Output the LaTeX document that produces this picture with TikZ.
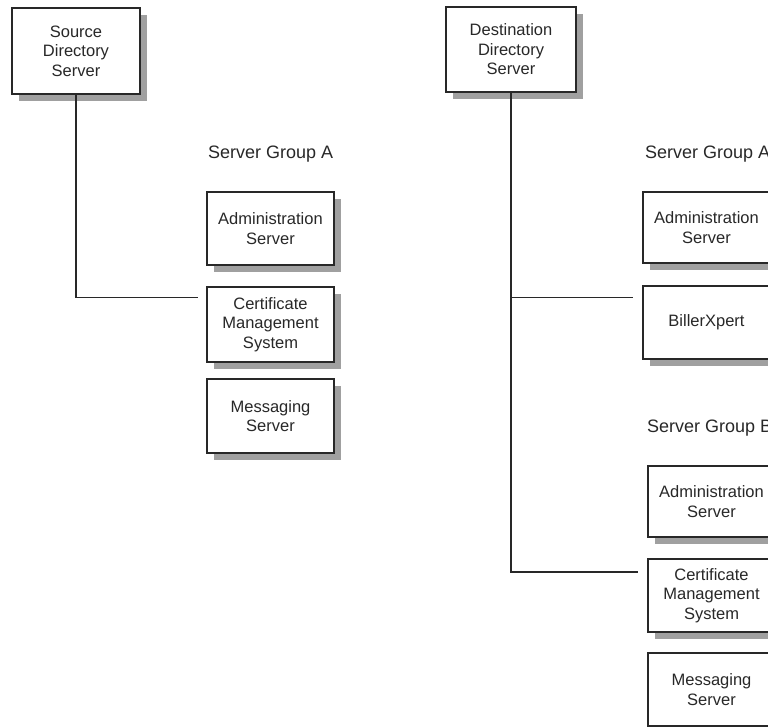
\documentclass[tikz,border=0pt]{standalone}
\usepackage{fontspec}
\setmainfont{Liberation Sans}
\usetikzlibrary{shadows}
\definecolor{shadowgray}{RGB}{160,160,160}
\definecolor{inkgray}{RGB}{40,40,40}
\tikzset{
  srvbox/.style={draw=inkgray, line width=1.4pt, fill=white, inner sep=0pt,
    align=center, minimum width=#1,
    font=\fontsize{16.5}{19.5}\selectfont, text=inkgray,
    drop shadow={shadow xshift=7pt, shadow yshift=-7pt, fill=shadowgray, opacity=1}},
  srvbox/.default=127pt,
  grplabel/.style={anchor=west, inner sep=0pt, font=\fontsize{18}{21}\selectfont, text=inkgray},
  conn/.style={draw=inkgray, line width=1.4pt}
}
\begin{document}
\begin{tikzpicture}[x=1pt,y=-1pt]
\useasboundingbox (0,0) rectangle (768,727);
% left side
\node[srvbox=128pt, minimum height=86pt] (src) at (76,51) {Source\\Directory\\Server};
\node[grplabel] (lblA) at (208,154) {Server Group A};
\node[srvbox, minimum height=73pt] (admA) at (270.5,228.5) {Administration\\Server};
\node[srvbox, minimum height=75pt] (cmsA) at (270.5,324.5) {Certificate\\Management\\System};
\node[srvbox, minimum height=74pt] (msgA) at (270.5,416) {Messaging\\Server};
\coordinate (jA) at (198,297.5);
\draw[conn] (src.south) |- (jA);
% right side
\node[srvbox=130pt, minimum height=85pt] (dst) at (511,49.5) {Destination\\Directory\\Server};
\node[grplabel] (lblA2) at (645,154) {Server Group A};
\node[srvbox, minimum height=71pt] (admA2) at (706.5,227.5) {Administration\\Server};
\node[srvbox, minimum height=73pt] (bill) at (706.5,322.5) {BillerXpert};
\node[grplabel] (lblB) at (647,428) {Server Group B};
\node[srvbox, minimum height=71pt] (admB) at (711.5,501.5) {Administration\\Server};
\node[srvbox, minimum height=73pt] (cmsB) at (711.5,595.5) {Certificate\\Management\\System};
\node[srvbox, minimum height=73pt] (msgB) at (711.5,689.5) {Messaging\\Server};
\coordinate (jB1) at (633,297.5);
\coordinate (jB2) at (638,572);
\draw[conn] (dst.south) |- (jB2);
\draw[conn] (dst.south |- jB1) -- (jB1);
\end{tikzpicture}
\end{document}
